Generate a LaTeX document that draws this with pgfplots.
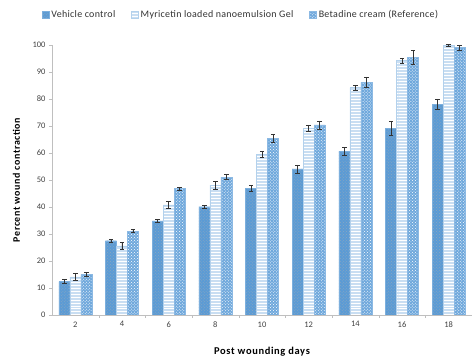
\documentclass[border=0pt]{standalone}
\usepackage{pgfplots}
\pgfplotsset{compat=1.18}
\usepackage{fontspec}
\setmainfont{Carlito}
\newfontfamily\lblfont[LetterSpace=6]{Carlito}
\newfontfamily\ylblfont[LetterSpace=6]{Carlito}
\newfontfamily\legfont[LetterSpace=3]{Carlito}
\usetikzlibrary{patterns}
\definecolor{vc}{HTML}{5B9BD5}
\definecolor{my}{HTML}{C9DEF2}
\definecolor{bt}{HTML}{6FA8DC}
\definecolor{axg}{HTML}{BFBFBF}
\begin{document}
\begin{tikzpicture}
\begin{axis}[
  scale only axis,
  width=420bp, height=270bp,
  ymin=0, ymax=100,
  xmin=1, xmax=19,
  ybar=0pt, bar width=11bp,
  xtick={2,4,...,18},
  minor xtick={3,5,...,17},
  ytick={0,10,...,100},
  major x tick style={draw=none},
  minor x tick style={draw=axg},
  y tick style={draw=axg},
  tick align=outside,
  major tick length=3bp, minor tick length=3bp,
  axis x line*=bottom, axis y line*=left,
  axis line style={draw=axg},
  x axis line style={-}, y axis line style={-},
  tick label style={font=\fontsize{8.5}{9}\selectfont, text=black!75},
  /pgf/number format/assume math mode=true,
  ylabel={\ylblfont\bfseries Percent wound contraction},
  xlabel={\lblfont\bfseries Post wounding days},
  xlabel style={font=\fontsize{10.5}{11}\selectfont, at={(axis description cs:0.5,-0.137)}, anchor=center},
  ylabel style={font=\fontsize{10}{11}\selectfont, at={(axis description cs:-0.085,0.5)}, anchor=center},
  legend columns=3,
  legend style={draw=none, at={(0.45,1.111)}, anchor=center,
    font=\fontsize{10}{11}\selectfont\legfont, text=black!80,
    /tikz/every even column/.append style={column sep=14bp}},
  legend image code/.code={\draw[#1] (0bp,-3.5bp) rectangle (7bp,3.5bp);},
  error bars/y dir=both, error bars/y explicit,
  error bars/error bar style={black!80, line width=0.6pt},
  error bars/error mark options={rotate=90, mark size=2.2bp, black!80, line width=0.6pt},
]
\addplot[fill=vc, draw=vc!80, postaction={pattern=crosshatch dots, pattern color=vc!70!black!60}] coordinates {
 (2,12.4) +- (0,0.8) (4,27.5) +- (0,0.6) (6,34.9) +- (0,0.5) (8,40.1) +- (0,0.5)
 (10,46.9) +- (0,1.0) (12,54.1) +- (0,1.5) (14,60.7) +- (0,1.5) (16,69.2) +- (0,2.5) (18,78.0) +- (0,2.0)};
\addplot[fill=my, draw=my!80!vc, postaction={pattern=horizontal lines, pattern color=white}] coordinates {
 (2,14.1) +- (0,1.2) (4,25.6) +- (0,1.2) (6,40.8) +- (0,1.2) (8,48.1) +- (0,1.5)
 (10,59.5) +- (0,1.2) (12,69.2) +- (0,1.2) (14,84.2) +- (0,1.0) (16,94.2) +- (0,1.0) (18,99.8) +- (0,0.3)};
\addplot[fill=bt, draw=bt!80, postaction={pattern=crosshatch dots, pattern color=white}] coordinates {
 (2,15.0) +- (0,0.8) (4,31.1) +- (0,0.6) (6,46.8) +- (0,0.6) (8,51.1) +- (0,1.0)
 (10,65.4) +- (0,1.5) (12,70.4) +- (0,1.5) (14,86.2) +- (0,2.0) (16,95.5) +- (0,2.5) (18,99.0) +- (0,1.0)};
\legend{Vehicle control, Myricetin loaded nanoemulsion Gel, Betadine cream (Reference)}
\end{axis}
\pgfresetboundingbox
\path (current axis.south west) ++(-52bp,-45bp) rectangle ++(474bp,360bp);
\end{tikzpicture}
\end{document}
